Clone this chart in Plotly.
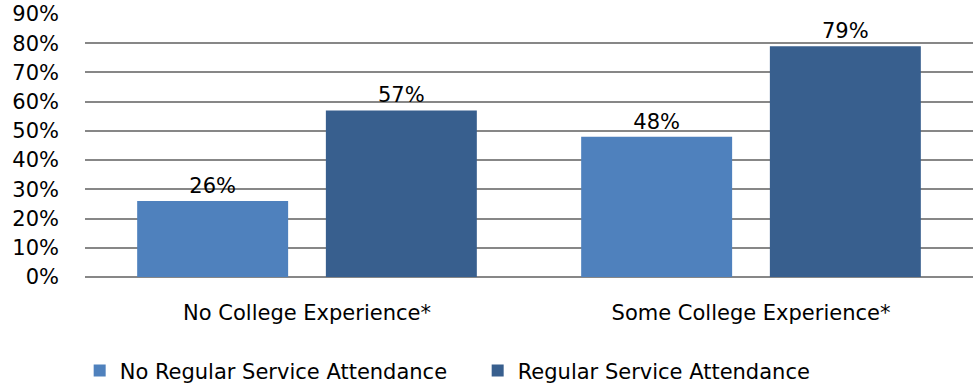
import plotly.graph_objects as go

categories = ["No College Experience*", "Some College Experience*"]
no_regular = [26, 48]
regular = [57, 79]
series_names = ["No Regular Service Attendance", "Regular Service Attendance"]
tick_vals = [0, 10, 20, 30, 40, 50, 60, 70, 80, 90]
tick_text = [f"{v}%" for v in tick_vals]

FONT = "DejaVu Sans"
colors = ["#4F81BD", "#385F8E"]

fig = go.Figure()
for name, vals, col in zip(series_names, [no_regular, regular], colors):
    fig.add_trace(go.Bar(
        x=categories, y=vals, name=name,
        marker=dict(color=col, line=dict(width=0)),
        text=[f"{v}%" for v in vals], textposition="outside",
        textfont=dict(family=FONT, size=21, color="#000000"),
        cliponaxis=False,
    ))

fig.update_layout(
    width=974, height=387,
    margin=dict(l=85, r=1, t=14, b=110, autoexpand=False),
    plot_bgcolor="white", paper_bgcolor="white",
    barmode="group", bargap=0.15, bargroupgap=0.2,
    font=dict(family=FONT, size=21, color="#000000"),
    showlegend=True,
    legend=dict(
        orientation="h", x=-0.006, xanchor="left",
        y=-0.357, yanchor="middle",
        font=dict(family=FONT, size=21, color="#000000"),
        entrywidth=353, entrywidthmode="pixels", itemwidth=30,
        bgcolor="rgba(0,0,0,0)",
    ),
    xaxis=dict(showline=False, ticks="", tickfont=dict(size=21), ticklabelstandoff=21),
    yaxis=dict(
        range=[0, 90], tickvals=tick_vals, ticktext=tick_text,
        showgrid=True, gridcolor="#878787", gridwidth=2,
        zeroline=True, zerolinecolor="#878787", zerolinewidth=2,
        ticks="", ticklabelstandoff=25, tickfont=dict(size=21),
    ),
)

fig.write_html("out.html")
